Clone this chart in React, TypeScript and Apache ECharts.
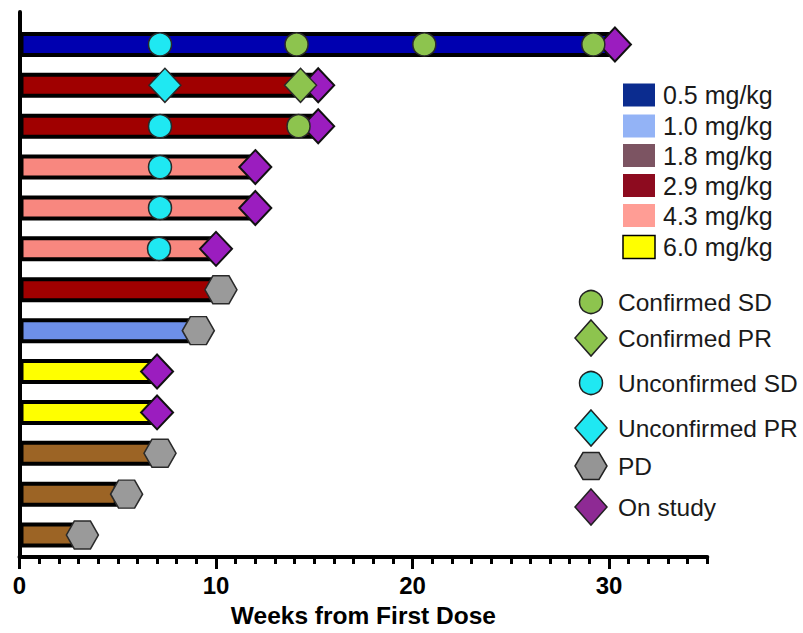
import React, { useEffect, useRef } from 'react';
import * as echarts from 'echarts';

// ---------- data ----------
const patients = ['P1', 'P2', 'P3', 'P4', 'P5', 'P6', 'P7', 'P8', 'P9', 'P10', 'P11', 'P12', 'P13'];
const doseLabels = ['0.5 mg/kg', '1.0 mg/kg', '1.8 mg/kg', '2.9 mg/kg', '4.3 mg/kg', '6.0 mg/kg'];
const doseLegendColors = ['#0B2C8F', '#93B3F6', '#7C5462', '#8D0B1F', '#FF9D95', '#FFFF00'];
const doseBarColors = ['#0000B0', '#6D8FE8', '#9C6425', '#A00000', '#F8877F', '#FFFF00'];
// dose index of each patient (row)
const patientDose = [0, 3, 3, 4, 4, 4, 3, 1, 5, 5, 2, 2, 2];
// weeks on study (bar length)
const weeksOnStudy = [30.0, 15.0, 15.0, 11.8, 11.8, 9.8, 10.0, 9.0, 6.8, 6.8, 6.9, 5.0, 3.1];

const confirmedSD: [number, string][] = [[14.1, 'P1'], [20.6, 'P1'], [29.2, 'P1'], [14.2, 'P3']];
const confirmedPR: [number, string][] = [[14.3, 'P2']];
const unconfirmedSD: [number, string][] = [[7.15, 'P1'], [7.15, 'P3'], [7.15, 'P4'], [7.15, 'P5'], [7.1, 'P6']];
const unconfirmedPR: [number, string][] = [[7.4, 'P2']];
const progressive: [number, string][] = [[10.25, 'P7'], [9.1, 'P8'], [7.15, 'P11'], [5.45, 'P12'], [3.2, 'P13']];
const onStudy: [number, string][] = [
  [30.3, 'P1'], [15.2, 'P2'], [15.2, 'P3'], [12.0, 'P4'], [12.0, 'P5'], [10.0, 'P6'], [7.0, 'P9'], [7.0, 'P10'],
];

const xTickValues = [0, 10, 20, 30];
const xMin = 0;
const xMax = 35;
const xTitle = 'Weeks from First Dose';

const markerLabels = ['Confirmed SD', 'Confirmed PR', 'Unconfirmed SD', 'Unconfirmed PR', 'PD', 'On study'];
const markerShapes = ['circle', 'diamond', 'circle', 'diamond', 'hexagon', 'diamond'];
const markerColors = ['#8DC44E', '#8DC44E', '#1FE8F2', '#1FE8F2', '#9A9A9A', '#9B1DBF'];
const markerLegendColors = ['#8DC44E', '#8DC44E', '#1FE8F2', '#1FE8F2', '#959595', '#8E2A94'];

// ---------- styling ----------
const FONT = '"Liberation Sans", Arial, Helvetica, sans-serif';
const HEX = 'path://M0,14 L8,0 L24,0 L32,14 L24,28 L8,28 Z';

function legendGraphics() {
  const els: any[] = [];
  const doseY = [95, 126, 155.5, 185.5, 215.5, 247];
  doseLabels.forEach((lab, i) => {
    els.push({
      type: 'rect',
      shape: { x: 623, y: doseY[i] - 11.5, width: 32, height: 23 },
      style: { fill: doseLegendColors[i], stroke: i === 5 ? '#000' : null, lineWidth: i === 5 ? 1.5 : 0 },
    });
    els.push({
      type: 'text',
      x: 663,
      y: doseY[i],
      style: {
        text: lab, fontSize: 25, fontFamily: FONT, fill: '#1a1a1a',
        align: 'left', verticalAlign: 'middle', textAlign: 'left', textVerticalAlign: 'middle',
      },
    });
  });
  const mY = [302, 338, 383, 428, 466, 507];
  const cx = 591;
  markerLabels.forEach((lab, i) => {
    const y = mY[i];
    const shape = markerShapes[i];
    const fill = markerLegendColors[i];
    const stroke = '#222';
    if (shape === 'circle') {
      els.push({ type: 'circle', shape: { cx, cy: y, r: 11.5 }, style: { fill, stroke, lineWidth: 1.5 } });
    } else if (shape === 'diamond') {
      els.push({
        type: 'polygon',
        shape: { points: [[cx, y - 18], [cx + 16, y], [cx, y + 18], [cx - 16, y]] },
        style: { fill, stroke, lineWidth: 1.5 },
      });
    } else {
      els.push({
        type: 'polygon',
        shape: { points: [[cx - 16, y], [cx - 8, y - 13.5], [cx + 8, y - 13.5], [cx + 16, y], [cx + 8, y + 13.5], [cx - 8, y + 13.5]] },
        style: { fill, stroke, lineWidth: 1.5 },
      });
    }
    els.push({
      type: 'text',
      x: 618,
      y,
      style: {
        text: lab, fontSize: 24.5, fontFamily: FONT, fill: '#1a1a1a',
        align: 'left', verticalAlign: 'middle', textAlign: 'left', textVerticalAlign: 'middle',
      },
    });
  });
  return els;
}

function markerSeries(name: string, data: [number, string][], shapeIdx: number, z: number) {
  const shape = markerShapes[shapeIdx];
  let symbol: string = shape;
  let size: any = 23;
  if (shape === 'diamond') size = [32, 34];
  if (shape === 'hexagon') { symbol = HEX; size = [32, 28]; }
  return {
    name,
    type: 'scatter',
    xAxisIndex: 0,
    yAxisIndex: 0,
    data,
    symbol,
    symbolSize: size,
    z,
    itemStyle: {
      color: markerColors[shapeIdx],
      borderColor: shapeIdx === 5 ? '#111' : '#2a2a2a',
      borderWidth: shapeIdx === 5 ? 2 : 1.5,
      opacity: 1,
    },
    emphasis: { disabled: true },
  };
}

export default function App() {
  const ref = useRef<HTMLDivElement>(null);
  useEffect(() => {
    if (!ref.current) return;
    const chart = echarts.init(ref.current, undefined, { renderer: 'svg' });
    const gridLeft = 19.5;
    const gridRight = 803 - 707.3;
    chart.setOption({
      animation: false,
      backgroundColor: '#fff',
      grid: [
        { left: gridLeft, right: gridRight, top: 24, bottom: 77.5 },
        { left: gridLeft, right: gridRight, top: 12, bottom: 69 },
      ],
      xAxis: [
        { type: 'value', gridIndex: 0, min: xMin, max: xMax, show: false, splitLine: { show: false } },
        {
          type: 'value', gridIndex: 1, min: xMin, max: xMax, interval: 1, position: 'bottom',
          axisLine: { show: true, lineStyle: { color: '#000', width: 4 } },
          axisTick: { show: true, length: 7, lineStyle: { color: '#000', width: 3 } },
          axisLabel: { show: false },
          splitLine: { show: false },
        },
        {
          type: 'value', gridIndex: 1, min: xMin, max: xMax, interval: 10, position: 'bottom',
          axisLine: { show: false },
          axisTick: { show: true, customValues: xTickValues, length: 12, lineStyle: { color: '#000', width: 3 } },
          axisLabel: {
            show: true, customValues: xTickValues, fontSize: 24, fontWeight: 'bold', color: '#000',
            fontFamily: FONT, margin: 16,
          },
          splitLine: { show: false },
          name: xTitle,
          nameLocation: 'middle',
          nameGap: 46,
          nameTextStyle: { fontSize: 24.5, fontWeight: 'bold', color: '#000', fontFamily: FONT },
        },
      ],
      yAxis: [
        { type: 'category', gridIndex: 0, data: patients, inverse: true, show: false },
        {
          type: 'value', gridIndex: 1, min: 0, max: 1, position: 'left',
          axisLine: { show: true, lineStyle: { color: '#000', width: 4 } },
          axisTick: { show: false }, axisLabel: { show: false }, splitLine: { show: false },
        },
      ],
      series: [
        {
          name: 'duration',
          type: 'bar',
          xAxisIndex: 0,
          yAxisIndex: 0,
          barWidth: 25,
          z: 2,
          data: weeksOnStudy.map((v, i) => ({
            value: v,
            itemStyle: { color: doseBarColors[patientDose[i]] },
          })),
          itemStyle: { borderColor: '#000', borderWidth: 4 },
          emphasis: { disabled: true },
        },
        markerSeries('On study', onStudy, 5, 3),
        markerSeries('PD', progressive, 4, 4),
        markerSeries('Unconfirmed PR', unconfirmedPR, 3, 5),
        markerSeries('Unconfirmed SD', unconfirmedSD, 2, 6),
        markerSeries('Confirmed PR', confirmedPR, 1, 7),
        markerSeries('Confirmed SD', confirmedSD, 0, 8),
      ],
      graphic: legendGraphics(),
    });
    return () => chart.dispose();
  }, []);
  return (
    <div
      ref={ref}
      style={{ position: 'fixed', left: 0, top: 0, width: 803, height: 633, background: '#fff' }}
    />
  );
}
